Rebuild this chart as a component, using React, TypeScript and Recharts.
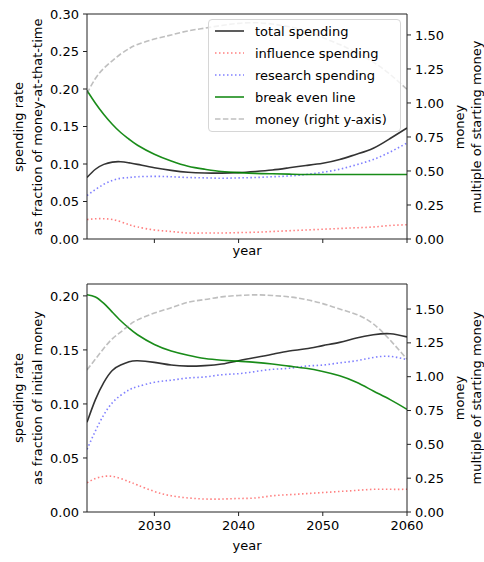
import React from 'react';
import { ComposedChart, Line, XAxis, YAxis, ReferenceLine, Legend } from 'recharts';

const years = [2022, 2023, 2024, 2025, 2026, 2027, 2028, 2030, 2032, 2034, 2036, 2038, 2040, 2042, 2044, 2046, 2048, 2050, 2052, 2054, 2056, 2058, 2060];

// top panel: fraction of money-at-that-time
const topTotal = [0.082, 0.093, 0.0995, 0.1025, 0.103, 0.1015, 0.0995, 0.095, 0.0915, 0.089, 0.088, 0.0878, 0.0885, 0.090, 0.092, 0.095, 0.098, 0.101, 0.106, 0.113, 0.121, 0.134, 0.148];
const topInfluence = [0.026, 0.027, 0.027, 0.026, 0.023, 0.019, 0.016, 0.012, 0.010, 0.008, 0.008, 0.008, 0.0085, 0.009, 0.010, 0.011, 0.012, 0.013, 0.014, 0.015, 0.016, 0.018, 0.019];
const topResearch = [0.058, 0.066, 0.073, 0.078, 0.081, 0.082, 0.083, 0.0835, 0.083, 0.082, 0.0815, 0.081, 0.0815, 0.082, 0.083, 0.084, 0.086, 0.089, 0.093, 0.099, 0.106, 0.116, 0.128];
const topBreakEven = [0.198, 0.181, 0.166, 0.153, 0.142, 0.133, 0.125, 0.113, 0.104, 0.097, 0.093, 0.090, 0.0885, 0.0875, 0.087, 0.0865, 0.086, 0.086, 0.086, 0.086, 0.086, 0.086, 0.086];
const topMoney = [1.07, 1.18, 1.255, 1.31, 1.36, 1.40, 1.43, 1.47, 1.50, 1.53, 1.55, 1.57, 1.585, 1.59, 1.58, 1.56, 1.53, 1.48, 1.43, 1.37, 1.30, 1.21, 1.10];

// bottom panel: fraction of initial money
const bottomTotal = [0.083, 0.104, 0.120, 0.131, 0.136, 0.139, 0.140, 0.1385, 0.136, 0.135, 0.1355, 0.137, 0.140, 0.143, 0.146, 0.149, 0.151, 0.154, 0.157, 0.161, 0.164, 0.165, 0.162];
const bottomInfluence = [0.027, 0.031, 0.033, 0.033, 0.031, 0.028, 0.025, 0.019, 0.015, 0.013, 0.012, 0.012, 0.0125, 0.013, 0.015, 0.016, 0.017, 0.018, 0.019, 0.020, 0.021, 0.021, 0.021];
const bottomResearch = [0.058, 0.075, 0.090, 0.101, 0.108, 0.113, 0.116, 0.120, 0.122, 0.124, 0.125, 0.127, 0.128, 0.130, 0.132, 0.133, 0.135, 0.136, 0.138, 0.140, 0.143, 0.144, 0.141];
const bottomBreakEven = [0.201, 0.199, 0.193, 0.185, 0.177, 0.170, 0.164, 0.155, 0.149, 0.145, 0.142, 0.1405, 0.1395, 0.1385, 0.137, 0.135, 0.133, 0.130, 0.126, 0.120, 0.112, 0.104, 0.095];
const bottomMoney = [1.05, 1.13, 1.21, 1.28, 1.33, 1.38, 1.42, 1.47, 1.51, 1.55, 1.57, 1.59, 1.60, 1.605, 1.60, 1.59, 1.57, 1.54, 1.50, 1.46, 1.39, 1.27, 1.13];

const xTicks = [2030, 2040, 2050, 2060];
const topLeftTicks = [0, 0.05, 0.1, 0.15, 0.2, 0.25, 0.3];
const bottomLeftTicks = [0, 0.05, 0.1, 0.15, 0.2];
const moneyTicks = [0, 0.25, 0.5, 0.75, 1, 1.25, 1.5];

const FONT = '"DejaVu Sans", Verdana, sans-serif';
const INK = '#222';

const series = [
  { key: 'total', name: 'total spending', stroke: '#000', opacity: 0.8, dash: undefined, axis: 'left' },
  { key: 'influence', name: 'influence spending', stroke: 'red', opacity: 0.5, dash: '1.5 2.5', axis: 'left' },
  { key: 'research', name: 'research spending', stroke: 'blue', opacity: 0.5, dash: '1.5 2.5', axis: 'left' },
  { key: 'breakEven', name: 'break even line', stroke: 'green', opacity: 0.9, dash: undefined, axis: 'left' },
  { key: 'money', name: 'money (right y-axis)', stroke: 'grey', opacity: 0.5, dash: '5.5 2.4', axis: 'right' },
];

const buildRows = (total: number[], influence: number[], research: number[], breakEven: number[], money: number[]) =>
  years.map((year, i) => ({
    year,
    total: total[i],
    influence: influence[i],
    research: research[i],
    breakEven: breakEven[i],
    money: money[i],
  }));

const topRows = buildRows(topTotal, topInfluence, topResearch, topBreakEven, topMoney);
const bottomRows = buildRows(bottomTotal, bottomInfluence, bottomResearch, bottomBreakEven, bottomMoney);

const LegendBox = () => (
  <div
    style={{
      width: 193,
      height: 113,
      boxSizing: 'border-box',
      border: '1px solid #d6d6d6',
      borderRadius: 4,
      background: 'rgba(255,255,255,0.8)',
      fontFamily: FONT,
      fontSize: 13,
      color: '#000',
    }}
  >
    {series.map((s) => (
      <div key={s.key} style={{ display: 'flex', alignItems: 'center', height: 22 }}>
        <svg width={29} height={22} style={{ marginLeft: 6, display: 'block' }}>
          <line x1={0} x2={29} y1={11} y2={11} stroke={s.stroke} strokeOpacity={s.opacity} strokeWidth={1.6} strokeDasharray={s.dash} />
        </svg>
        <span style={{ marginLeft: 11, whiteSpace: 'nowrap' }}>{s.name}</span>
      </div>
    ))}
  </div>
);

type PanelProps = {
  rows: any[];
  height: number;
  top: number;
  xAxisHeight: number;
  leftMax: number;
  leftTicks: number[];
  rightMax: number;
  showYears: boolean;
  withLegend: boolean;
};

const tickStyle = { fill: '#000', fontSize: 13, fontFamily: FONT };

function Panel({ rows, height, top, xAxisHeight, leftMax, leftTicks, rightMax, showYears, withLegend }: PanelProps) {
  return (
    <ComposedChart width={484} height={height} data={rows} margin={{ top, right: 30, bottom: 0, left: 40 }}>
      <XAxis
        dataKey="year"
        type="number"
        domain={[2022, 2060]}
        ticks={xTicks}
        allowDataOverflow
        height={xAxisHeight}
        tickSize={4}
        tickMargin={5}
        axisLine={{ stroke: INK }}
        tickLine={{ stroke: INK }}
        tick={tickStyle}
        tickFormatter={(v: number) => (showYears ? String(v) : '')}
      />
      <YAxis
        yAxisId="left"
        domain={[0, leftMax]}
        ticks={leftTicks}
        allowDataOverflow
        width={47}
        tickSize={4}
        tickMargin={4}
        axisLine={{ stroke: INK }}
        tickLine={{ stroke: INK }}
        tick={tickStyle}
        tickFormatter={(v: number) => v.toFixed(2)}
      />
      <YAxis
        yAxisId="right"
        orientation="right"
        domain={[0, rightMax]}
        ticks={moneyTicks}
        allowDataOverflow
        width={47}
        tickSize={4}
        tickMargin={4}
        axisLine={{ stroke: INK }}
        tickLine={{ stroke: INK }}
        tick={{ ...tickStyle, textAnchor: 'start' }}
        tickFormatter={(v: number) => v.toFixed(2)}
      />
      <ReferenceLine yAxisId="left" y={leftMax} stroke={INK} />
      {series.map((s) => (
        <Line
          key={s.key}
          yAxisId={s.axis}
          dataKey={s.key}
          name={s.name}
          type="natural"
          stroke={s.stroke}
          strokeOpacity={s.opacity}
          strokeWidth={1.6}
          strokeDasharray={s.dash}
          dot={false}
          activeDot={false}
          isAnimationActive={false}
        />
      ))}
      {withLegend && (
        <Legend
          layout="horizontal"
          verticalAlign="middle"
          content={() => <LegendBox />}
          wrapperStyle={{ position: 'absolute', left: 208, top: 19, width: 193, height: 113 }}
        />
      )}
    </ComposedChart>
  );
}

const AxisTitle = ({ x, y, lines, rotate }: { x: number[]; y: number; lines: string[]; rotate: boolean }) => (
  <>
    {lines.map((t, i) => (
      <text
        key={t}
        x={x[i]}
        y={y}
        textAnchor="middle"
        dominantBaseline="central"
        transform={rotate ? `rotate(-90 ${x[i]} ${y})` : undefined}
        fontFamily={FONT}
        fontSize={13}
        fill="#000"
      >
        {t}
      </text>
    ))}
  </>
);

export default function App() {
  return (
    <div style={{ position: 'absolute', left: 0, top: 0, width: 484, height: 562, background: '#fff' }}>
      <Panel rows={topRows} height={262} top={14} xAxisHeight={23} leftMax={0.3} leftTicks={topLeftTicks} rightMax={1.654} showYears={false} withLegend />
      <Panel rows={bottomRows} height={300} top={22} xAxisHeight={50} leftMax={0.211} leftTicks={bottomLeftTicks} rightMax={1.685} showYears withLegend={false} />
      <svg width={484} height={562} style={{ position: 'absolute', left: 0, top: 0, pointerEvents: 'none' }}>
        <AxisTitle x={[18, 37]} y={127} lines={['spending rate', 'as fraction of money-at-that-time']} rotate />
        <AxisTitle x={[459, 476]} y={127} lines={['money', 'multiple of starting money']} rotate />
        <AxisTitle x={[247]} y={250} lines={['year']} rotate={false} />
        <AxisTitle x={[18, 37]} y={398} lines={['spending rate', 'as fraction of initial money']} rotate />
        <AxisTitle x={[459, 476]} y={398} lines={['money', 'multiple of starting money']} rotate />
        <AxisTitle x={[247]} y={545} lines={['year']} rotate={false} />
      </svg>
    </div>
  );
}
